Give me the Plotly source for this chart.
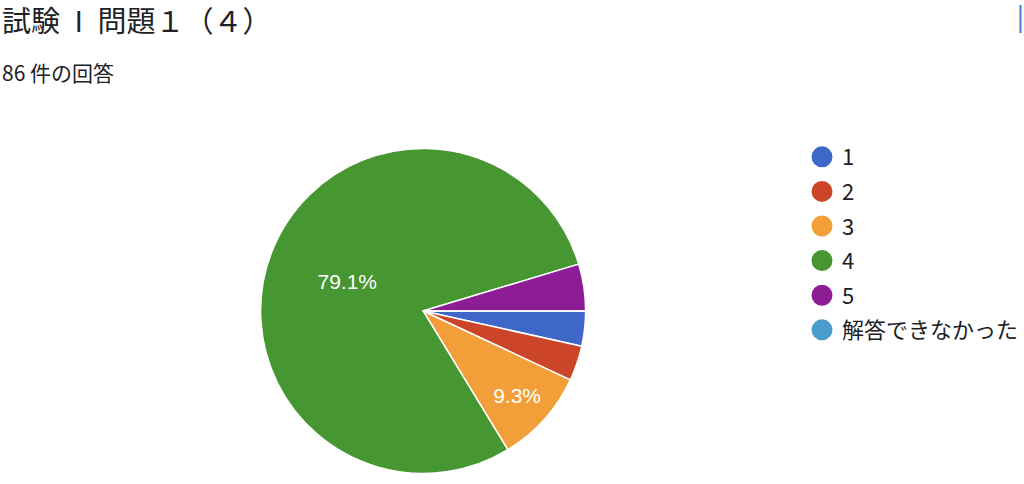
import plotly.graph_objects as go

labels = ["1", "2", "3", "4", "5", "解答できなかった"]
values = [3, 3, 8, 68, 4, 0]
colors = ["#3f67c9", "#cc4529", "#f29f39", "#469631", "#8c1d94", "#4a9ccc"]
title_text = "試験\u2002I\u2002問題１（４）"
subtitle_text = "86 件の回答"

total = sum(values)
slice_text = [f"{v / total * 100:.1f}%" if v / total >= 0.05 else "" for v in values]

fig = go.Figure()
fig.add_trace(go.Pie(
    labels=labels,
    values=values,
    text=slice_text,
    textinfo="text",
    textposition="inside",
    insidetextorientation="horizontal",
    textfont=dict(family="Liberation Sans, Arial, sans-serif", size=21, color="white"),
    marker=dict(colors=colors, line=dict(color="white", width=1.5)),
    sort=False,
    direction="clockwise",
    rotation=90,
    showlegend=False,
    hoverinfo="label+percent",
    domain=dict(x=[0.255, 0.573], y=[0.021, 0.694]),
))

for lab, col in zip(labels, colors):
    fig.add_trace(go.Scatter(
        x=[None], y=[None], mode="markers", name=lab, legendgroup=lab,
        marker=dict(symbol="circle", size=16, color=col, line=dict(color=col, width=5)),
        showlegend=True,
    ))

fig.update_layout(
    width=1024, height=484,
    margin=dict(l=0, r=0, t=0, b=0),
    paper_bgcolor="white", plot_bgcolor="white",
    xaxis=dict(visible=False), yaxis=dict(visible=False),
    font=dict(family="Noto Sans CJK JP, sans-serif", color="#202124"),
    legend=dict(
        x=0.785, y=0.719, xanchor="left", yanchor="top",
        font=dict(family="Noto Sans CJK JP, sans-serif", size=22, color="#202124"),
        bgcolor="rgba(0,0,0,0)", tracegroupgap=3,
        itemclick=False, itemdoubleclick=False,
    ),
    annotations=[
        dict(text=title_text, x=0.0, y=1.0, xref="paper", yref="paper",
             xanchor="left", yanchor="top", yshift=4, showarrow=False,
             font=dict(family="Noto Sans CJK JP, sans-serif", size=29, color="#202124")),
        dict(text=subtitle_text, x=0.0, y=1.0, xref="paper", yref="paper",
             xanchor="left", yanchor="top", yshift=-55, showarrow=False,
             font=dict(family="Noto Sans CJK JP, sans-serif", size=21, color="#202124")),
    ],
    shapes=[
        dict(type="line", xref="paper", yref="paper",
             x0=0.9985, x1=0.9985, y0=1 - 5 / 484, y1=1 - 33 / 484,
             line=dict(color="#4a78d0", width=2)),
    ],
)

fig.write_html("out.html", config={"displayModeBar": False},
               post_script="document.body.style.margin='0';")
